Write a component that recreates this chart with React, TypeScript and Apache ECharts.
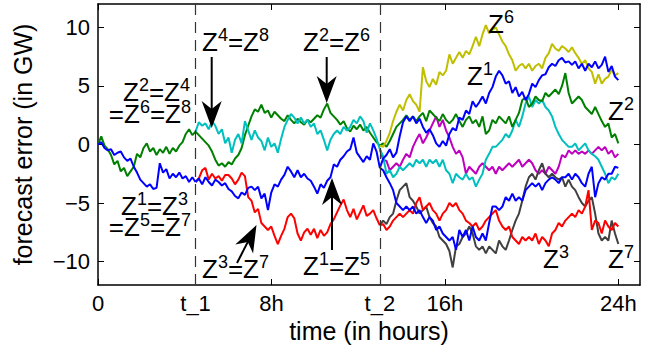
import React, { useEffect, useRef } from "react";
import * as echarts from "echarts";

const FONT = "'Liberation Sans', Arial, Helvetica, sans-serif";

const xTickValues = [0, 4.5, 8, 13, 16, 24];
const xTickLabels = ["0", "t_1", "8h", "t_2", "16h", "24h"];
const yTickValues = [-10, -5, 0, 5, 10];
const splitHours = [4.5, 13];
const dayEnd = 24;

// stage 1: 0 .. t_1 (31 samples, including 0)
const s1Green = [0, 0.7, -0.1, -0.4, -0.9, -1.7, -1.4, -2.3, -2.0, -2.7, -2.3, -1.9, -0.8, -1.1, -0.3, 0.1, -0.6, -0.3, -0.9, -0.4, -0.7, -0.2, -0.8, -0.3, -0.6, -0.1, 0.2, 0.9, 1.3, 0.8, 1.1];
const s1Blue = [0, 0.2, -0.3, -0.5, -0.4, -0.9, -0.7, -0.6, -1.1, -1.4, -1.2, -1.9, -2.4, -3.0, -3.3, -3.6, -3.4, -3.8, -3.7, -1.6, -2.4, -2.1, -2.9, -2.5, -2.8, -2.4, -2.9, -2.7, -3.2, -2.8, -3.2];

// stage 2: t_1 .. t_2 (56 samples after t_1)
const s2Green = [0.8, 0.5, 0.2, -0.1, -0.6, -1.3, -1.8, -1.6, -1.9, -1.5, -1.7, -1.2, -0.9, -0.3, 0.8, 1.6, 2.4, 3.0, 2.8, 3.4, 2.7, 2.9, 2.3, 2.8, 2.5, 2.2, 2.0, 2.5, 2.1, 1.8, 2.2, 1.9, 1.7, 2.1, 1.9, 2.2, 2.5, 2.3, 3.0, 3.5, 2.7, 2.4, 2.1, 1.7, 2.0, 1.4, 1.1, 1.6, 1.3, 1.7, 1.2, 1.5, 1.0, 0.6, 0.2, -0.1];
const s2Cyan = [1.9, 1.6, 1.8, 1.3, 2.0, 1.6, 0.9, 1.3, 0.1, 0.6, -0.7, 0.4, 0.9, 0.1, 2.0, 1.2, 0.4, 1.2, 0.6, 0.3, -0.5, 0.6, -0.2, 0.1, -0.7, 0.5, 1.5, 2.1, 2.6, 2.3, 1.8, 2.3, 1.8, 2.1, 1.5, 1.8, 0.9, 1.2, 0.4, -0.5, 0.4, 0.9, 1.2, 0.9, 1.5, 1.2, 1.5, 2.1, 1.8, 2.4, 2.0, 1.0, 1.8, 1.2, 0.5, -0.4];
const s2Blue = [-2.9, -3.4, -2.8, -3.2, -3.5, -3.0, -3.2, -3.5, -3.3, -3.8, -4.0, -4.4, -4.6, -4.1, -4.3, -3.7, -3.6, -3.9, -3.6, -4.6, -4.2, -5.6, -4.1, -3.4, -3.6, -3.0, -2.6, -1.9, -2.3, -2.8, -2.2, -2.8, -2.5, -2.9, -3.1, -3.6, -4.2, -3.4, -3.7, -3.1, -2.8, -1.7, -1.9, -1.3, -1.0, -0.6, -0.4, 0.6, -0.7, -1.1, -1.5, -1.0, -1.3, 0.1, -0.6, -2.0];
const s2Red = [-2.9, -2.2, -2.0, -3.0, -2.5, -2.9, -2.7, -3.1, -2.6, -2.6, -2.9, -3.4, -3.0, -2.4, -2.7, -4.5, -4.8, -5.8, -5.5, -6.7, -7.0, -7.3, -7.0, -7.8, -8.5, -7.8, -7.2, -6.2, -5.9, -6.3, -7.6, -8.2, -7.5, -7.2, -7.7, -7.2, -8.0, -7.3, -7.8, -7.5, -6.8, -6.4, -5.8, -5.2, -4.7, -5.6, -6.2, -5.5, -6.4, -5.8, -5.2, -6.1, -5.9, -5.6, -6.3, -6.9];

// stage 3: t_2 .. 24h (72 samples after t_2)
const z6Late = [-0.2, 0.3, 1.0, 2.0, 2.8, 3.4, 2.9, 3.8, 4.3, 3.7, 3.4, 2.8, 6.6, 5.4, 4.9, 5.6, 5.1, 6.2, 5.9, 6.3, 7.7, 6.9, 7.4, 7.9, 7.4, 8.0, 7.7, 8.4, 9.2, 8.4, 9.4, 10.2, 9.5, 9.8, 10.0, 9.4, 8.8, 8.4, 7.7, 7.2, 6.3, 6.7, 6.9, 6.5, 6.9, 6.3, 6.7, 6.9, 6.5, 7.4, 7.8, 8.6, 8.2, 8.0, 8.4, 8.2, 7.9, 8.3, 7.8, 7.4, 6.9, 7.2, 6.5, 6.2, 5.2, 6.0, 5.2, 5.6, 5.8, 6.4, 5.9, 6.1];
const z1Late = [-1.2, -0.9, -0.4, -1.1, -0.7, 0.7, 1.9, 2.4, 2.0, 2.4, 1.8, 2.2, 1.5, 1.0, 1.3, 0.8, 0.1, -0.2, 0.3, -0.1, 0.9, 1.4, 1.2, 2.3, 2.1, 2.9, 2.6, 3.7, 3.2, 3.6, 4.1, 3.5, 4.4, 4.9, 5.8, 6.3, 5.9, 5.2, 5.4, 4.4, 4.9, 4.1, 4.5, 3.8, 4.3, 5.2, 4.9, 5.5, 5.9, 6.0, 6.6, 6.9, 6.7, 7.2, 7.4, 7.0, 7.1, 6.8, 7.1, 6.5, 6.9, 6.3, 6.9, 6.6, 7.1, 6.5, 6.8, 7.5, 6.2, 6.7, 5.8, 5.5];
const z2Late = [0.1, -0.2, 0.3, 0.9, 1.5, 1.8, 2.1, 2.5, 2.1, 2.4, 2.0, 2.4, 2.7, 2.0, 2.9, 2.6, 2.3, 2.0, 2.6, 2.1, 1.8, 2.1, 2.6, 2.0, 1.5, 2.1, 2.4, 1.8, 2.1, 1.5, 2.4, 0.9, 1.2, 2.1, 1.8, 2.4, 2.1, 1.8, 2.4, 1.5, 2.1, 2.7, 3.8, 4.0, 3.2, 3.5, 4.1, 3.8, 3.7, 4.4, 4.1, 4.4, 4.7, 4.3, 5.0, 6.1, 4.4, 3.5, 3.8, 4.1, 3.8, 3.2, 2.9, 2.6, 3.2, 2.6, 2.0, 1.5, 1.8, 0.6, 0.9, 0.1];
const z4Late = [-1.0, -2.5, -2.2, -2.8, -2.5, -1.9, -2.2, -1.9, -1.6, -1.9, -1.3, -1.6, -1.3, -1.9, -1.3, -1.6, -1.3, -1.9, -1.3, -2.2, -2.5, -3.3, -2.5, -2.8, -3.0, -2.5, -3.0, -2.8, -3.6, -3.0, -2.5, -1.3, -0.8, -0.2, -0.2, 0.1, 0.4, 0.9, 0.6, 1.2, 2.1, 1.5, 2.4, 3.5, 4.1, 3.2, 3.8, 3.5, 3.8, 3.2, 2.9, 2.4, 1.5, 0.9, 0.4, 0.1, -0.2, -0.2, 0.1, -0.5, -0.2, 0.1, -0.5, -0.8, -1.0, -1.3, -1.9, -2.5, -3.3, -2.8, -3.0, -2.5];
const z8Late = [-1.3, -1.4, -2.2, -1.9, -1.6, -1.9, -1.3, -0.8, -1.1, -0.2, 0.4, 0.9, 0.1, 0.6, 1.2, 1.8, 2.4, 1.5, 2.1, 1.2, 0.6, -0.2, -0.8, -0.5, -1.1, -2.5, -1.9, -2.2, -2.5, -1.9, -1.6, -1.9, -2.2, -1.9, -2.5, -1.9, -2.2, -1.9, -1.6, -1.9, -1.6, -1.3, -1.9, -1.6, -1.3, -1.6, -2.2, -2.5, -2.2, -2.5, -1.9, -2.2, -2.5, -1.9, -0.9, -1.1, -0.5, -0.8, -0.5, -0.8, -0.6, -0.8, -0.5, -0.8, -0.5, -0.2, -0.5, -0.2, -0.8, -0.5, -1.1, -0.8];
const z5Late = [-2.2, -2.8, -3.3, -3.9, -5.0, -5.3, -5.6, -5.3, -5.6, -5.3, -5.9, -5.6, -6.2, -6.7, -6.2, -6.5, -7.3, -7.0, -7.6, -7.9, -8.2, -7.9, -9.0, -7.3, -7.9, -7.3, -8.2, -7.0, -7.9, -8.2, -7.6, -8.2, -6.7, -5.3, -5.3, -5.6, -5.3, -4.5, -4.8, -4.2, -4.8, -4.5, -4.8, -3.9, -3.6, -3.3, -3.6, -3.3, -3.9, -3.3, -3.0, -2.8, -3.0, -3.3, -2.8, -2.8, -2.5, -3.0, -2.5, -2.8, -3.3, -3.6, -2.5, -1.9, -4.5, -3.3, -2.8, -3.0, -2.5, -2.5, -1.9, -2.0];
const z3Late = [-6.8, -7.3, -7.0, -6.5, -6.2, -5.9, -6.2, -5.9, -5.6, -5.9, -5.0, -4.5, -5.6, -5.3, -5.0, -5.6, -5.9, -6.5, -5.9, -5.6, -5.0, -5.3, -5.0, -5.6, -5.9, -6.5, -6.7, -7.0, -6.7, -7.3, -7.0, -6.5, -6.2, -5.9, -5.6, -6.5, -7.0, -7.3, -7.0, -7.9, -8.2, -8.5, -7.9, -8.2, -7.9, -8.2, -7.6, -8.5, -7.9, -8.2, -8.7, -7.6, -7.3, -6.7, -7.0, -6.5, -6.2, -5.9, -6.2, -5.6, -5.9, -5.3, -3.9, -7.3, -6.5, -6.7, -7.6, -6.5, -7.0, -7.3, -6.7, -7.0];
const z7Late = [-6.5, -6.8, -6.2, -5.9, -4.8, -3.9, -3.6, -3.3, -4.5, -4.8, -5.3, -5.9, -5.6, -5.3, -6.2, -6.7, -7.0, -7.9, -8.2, -8.5, -9.1, -10.5, -8.7, -8.5, -7.9, -7.6, -7.0, -7.6, -8.7, -9.0, -8.7, -9.3, -8.7, -9.0, -9.3, -8.2, -8.7, -9.0, -8.2, -7.3, -6.5, -5.9, -4.8, -3.6, -2.8, -2.5, -3.0, -2.2, -1.6, -2.5, -2.8, -2.5, -2.8, -3.0, -2.8, -3.6, -3.0, -3.6, -3.9, -4.5, -5.0, -5.3, -4.8, -4.5, -5.9, -7.6, -8.2, -7.9, -8.2, -6.5, -7.6, -8.5];

const COLORS = {
  blue: "#0000ff",
  green: "#008000",
  red: "#ff0000",
  cyan: "#00bfbf",
  magenta: "#bf00bf",
  yellow: "#bfbf00",
  gray: "#404040",
};

const s1Hours = s1Green.map((_, i) => (splitHours[0] * i) / (s1Green.length - 1));
const s2Hours = s2Green.map((_, i) => splitHours[0] + ((splitHours[1] - splitHours[0]) * (i + 1)) / s2Green.length);
const s3Hours = z1Late.map((_, i) => splitHours[1] + ((dayEnd - splitHours[1]) * (i + 1)) / z1Late.length);

type Pt = [number, number];
const lastOf = (hours: number[], vals: number[]): Pt => [hours[hours.length - 1], vals[vals.length - 1]];

function lineSeries(name: string, color: string, hours: number[], vals: number[], start: Pt | null, z: number, extra: any = {}) {
  const data: Pt[] = (start ? [start] : []).concat(hours.map((h, i) => [h, vals[i]] as Pt));
  return {
    type: "line",
    name,
    data,
    showSymbol: false,
    symbol: "none",
    lineStyle: { color, width: 2 },
    itemStyle: { color },
    z,
    silent: true,
    animation: false,
    ...extra,
  };
}

function richText(src: string) {
  return ("{z|" + src.replace(/\^(\d)/g, "}{s|$1}{z|") + "}").replace(/\{z\|\}/g, "");
}

const RICH = {
  z: { fontSize: 26, fontFamily: FONT, lineHeight: 22, fill: "#000", color: "#000" },
  s: { fontSize: 18, fontFamily: FONT, height: 8, lineHeight: 8, verticalAlign: "top", fill: "#000", color: "#000" },
};

function label(x: number, y: number, src: string, align: string = "left") {
  return {
    type: "text",
    x,
    y,
    z: 100,
    silent: true,
    style: {
      text: richText(src),
      rich: RICH,
      align,
      verticalAlign: "top",
      fill: "#000",
      fontFamily: FONT,
      fontSize: 26,
    },
  };
}

function arrow(x1: number, y1: number, x2: number, y2: number) {
  const dx = x2 - x1;
  const dy = y2 - y1;
  const L = Math.hypot(dx, dy);
  const ux = dx / L;
  const uy = dy / L;
  const px = -uy;
  const py = ux;
  const hl = 27;
  const hw = 10;
  const notch = 19;
  const bx = x2 - ux * hl;
  const by = y2 - uy * hl;
  const nx = x2 - ux * notch;
  const ny = y2 - uy * notch;
  return [
    { type: "line", z: 100, silent: true, shape: { x1, y1, x2: nx, y2: ny }, style: { stroke: "#000", lineWidth: 2 } },
    {
      type: "polygon",
      z: 100,
      silent: true,
      shape: { points: [[x2, y2], [bx + px * hw, by + py * hw], [nx, ny], [bx - px * hw, by - py * hw]] },
      style: { fill: "#000" },
    },
  ];
}

export default function App() {
  const ref = useRef<HTMLDivElement>(null);
  useEffect(() => {
    if (!ref.current) return;
    const chart = echarts.init(ref.current, null, { renderer: "svg" });

    const g1End = lastOf(s1Hours, s1Green);
    const b1End = lastOf(s1Hours, s1Blue);
    const g2End = lastOf(s2Hours, s2Green);
    const c2End = lastOf(s2Hours, s2Cyan);
    const b2End = lastOf(s2Hours, s2Blue);
    const r2End = lastOf(s2Hours, s2Red);

    const series: any[] = [
      lineSeries("Z2=Z4=Z6=Z8", COLORS.green, s1Hours, s1Green, null, 2, {
        markLine: {
          silent: true,
          symbol: ["none", "none"],
          label: { show: false },
          lineStyle: { color: "#333", type: [11, 7], width: 1.2 },
          data: splitHours.map((h) => ({ xAxis: h })),
        },
      }),
      lineSeries("Z1=Z3=Z5=Z7", COLORS.blue, s1Hours, s1Blue, null, 3),
      lineSeries("Z2=Z6", COLORS.green, s2Hours, s2Green, g1End, 2),
      lineSeries("Z4=Z8", COLORS.cyan, s2Hours, s2Cyan, g1End, 3),
      lineSeries("Z3=Z7", COLORS.red, s2Hours, s2Red, b1End, 3),
      lineSeries("Z1=Z5", COLORS.blue, s2Hours, s2Blue, b1End, 4),
      lineSeries("Z8", COLORS.magenta, s3Hours, z8Late, c2End, 2),
      lineSeries("Z4", COLORS.cyan, s3Hours, z4Late, c2End, 2),
      lineSeries("Z2", COLORS.green, s3Hours, z2Late, g2End, 3),
      lineSeries("Z6", COLORS.yellow, s3Hours, z6Late, g2End, 3),
      lineSeries("Z7", COLORS.gray, s3Hours, z7Late, r2End, 3),
      lineSeries("Z3", COLORS.red, s3Hours, z3Late, r2End, 3),
      lineSeries("Z5", COLORS.blue, s3Hours, z5Late, b2End, 4),
      lineSeries("Z1", COLORS.blue, s3Hours, z1Late, b2End, 4),
    ];

    const axisLine = { show: true, onZero: false, lineStyle: { color: "#000", width: 1.5 } };
    const tickStyle = { color: "#000", width: 1 };

    const graphic: any[] = [
      label(202, 31, "Z^4=Z^8"),
      label(303, 31, "Z^2=Z^6"),
      label(190, 81, "Z^2=Z^4", "right"),
      label(191, 103, "=Z^6=Z^8", "right"),
      label(188, 195, "Z^1=Z^3", "right"),
      label(191, 216, "=Z^5=Z^7", "right"),
      label(202, 258, "Z^3=Z^7"),
      label(303, 255, "Z^1=Z^5"),
      label(488, 13, "Z^6"),
      label(467, 65, "Z^1"),
      label(608, 100, "Z^2"),
      label(543, 248, "Z^3"),
      label(608, 248, "Z^7"),
      ...arrow(211.7, 57, 211.7, 128),
      ...arrow(326.7, 57, 326.7, 103),
      ...arrow(332, 250, 332, 178),
      ...arrow(237, 263, 256.5, 225),
    ];

    chart.setOption({
      animation: false,
      backgroundColor: "#fff",
      textStyle: { fontFamily: FONT },
      grid: { left: 98, right: 28, top: 4, bottom: 73, containLabel: false, outerBoundsMode: "none" },
      xAxis: [
        {
          type: "value",
          min: 0,
          max: 25,
          position: "bottom",
          axisLine,
          splitLine: { show: false },
          axisTick: { show: true, inside: true, length: 6, customValues: xTickValues, lineStyle: tickStyle },
          axisLabel: {
            customValues: xTickValues,
            formatter: (v: number) => {
              const i = xTickValues.findIndex((t) => Math.abs(t - v) < 1e-6);
              return i >= 0 ? xTickLabels[i] : "";
            },
            color: "#000",
            fontSize: 22,
            fontFamily: FONT,
            margin: 7,
          },
          name: "time (in hours)",
          nameLocation: "middle",
          nameGap: 31,
          nameTextStyle: { color: "#000", fontSize: 25, fontFamily: FONT },
        },
        {
          type: "value",
          min: 0,
          max: 25,
          position: "top",
          axisLine,
          splitLine: { show: false },
          axisTick: { show: true, inside: true, length: 6, customValues: xTickValues, lineStyle: tickStyle },
          axisLabel: { show: false },
        },
      ],
      yAxis: [
        {
          type: "value",
          min: -12,
          max: 12,
          position: "left",
          axisLine,
          splitLine: { show: false },
          axisTick: { show: true, inside: true, length: 6, customValues: yTickValues, lineStyle: tickStyle },
          axisLabel: {
            customValues: yTickValues,
            formatter: (v: number) => String(v).replace("-", "\u2212"),
            color: "#000",
            fontSize: 22,
            fontFamily: FONT,
            margin: 8,
          },
          name: "forecast error (in GW)",
          nameLocation: "middle",
          nameGap: 63,
          nameRotate: 90,
          nameTextStyle: { color: "#000", fontSize: 25, fontFamily: FONT },
        },
        {
          type: "value",
          min: -12,
          max: 12,
          position: "right",
          axisLine,
          splitLine: { show: false },
          axisTick: { show: true, inside: true, length: 6, customValues: yTickValues, lineStyle: tickStyle },
          axisLabel: { show: false },
        },
      ],
      series,
      graphic,
    });

    return () => chart.dispose();
  }, []);

  return (
    <div
      ref={ref}
      style={{ position: "fixed", left: 0, top: 0, width: 668, height: 358, background: "#fff" }}
    />
  );
}
